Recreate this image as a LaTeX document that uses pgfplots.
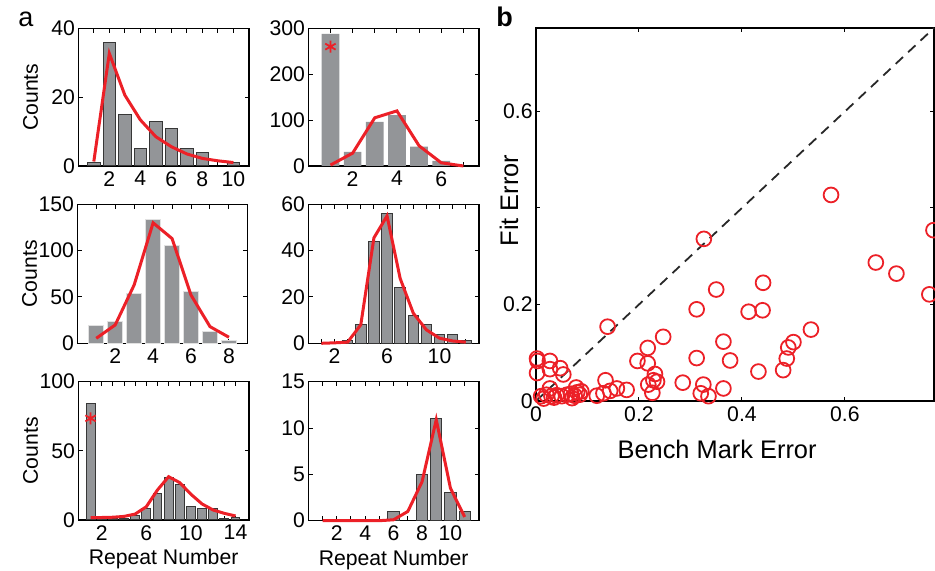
\documentclass[border=0pt]{standalone}
\usepackage{fontspec}
\setmainfont{Liberation Sans}
\usepackage{pgfplots}
\pgfplotsset{compat=1.18}
\definecolor{myred}{RGB}{236,32,39}
\definecolor{bargray}{RGB}{147,149,152}
\definecolor{baredge}{RGB}{55,55,55}
\definecolor{lightedge}{RGB}{225,225,225}
\definecolor{dashgray}{RGB}{40,40,40}
\pgfplotsset{
 common/.style={
  scale only axis, tick align=inside, major tick length=2.2pt,
  axis line style={line width=0.6pt}, tick style={black, line width=0.5pt},
  /pgf/number format/assume math mode=true,
  yticklabel style={inner xsep=1.5pt},
  xticklabel style={inner ysep=2.5pt},
  clip=false,
 },
 hist/.style={common,
  width=85.3pt, height=69pt, xmin=0, ymin=0,
  every axis y label/.style={at={(axis description cs:-0.28,0.5)}, rotate=90, anchor=center},
  every axis x label/.style={at={(axis description cs:0.5,-0.32)}, anchor=base},
 },
 bars/.style={ybar, bar width=0.8, fill=bargray, draw=baredge, line width=0.5pt},
 fit/.style={myred, line width=1.5pt, sharp plot, mark=none},
 star/.style={only marks, mark=asterisk, myred, mark size=3pt, line width=0.9pt},
}
\begin{document}
\fontsize{10.6pt}{12.7pt}\selectfont
\begin{tikzpicture}
\useasboundingbox (0,0) rectangle (467.5pt,285.5pt);
\node at (13pt,276pt) {\fontsize{13.5pt}{15pt}\selectfont a};
\node at (252.3pt,277pt) {\fontsize{13.5pt}{15pt}\selectfont\bfseries b};

% subplot 1
\begin{axis}[hist, at={(39.15pt,202.5pt)}, anchor=south west, height=68.85pt,
  xmax=11, ymax=40, xtick={1,...,10}, xticklabels={,2,,4,,6,,8,,10},
  ytick={0,20,40}, ylabel={Counts}]
\addplot[bars] coordinates {(1,1)(2,36)(3,15)(4,5)(5,13)(6,11)(7,5)(8,4)(10,1)};
\addplot[fit] coordinates {(1,1.3)(2,32.7)(3,20.6)(4,13.4)(5,8.5)(6,5.6)(7,3.5)(8,2.2)(9,1.5)(10,1.0)};
\end{axis}

% subplot 2
\begin{axis}[hist, at={(154.15pt,202.5pt)}, anchor=south west, height=68.85pt,
  xmax=7.7, ymax=300, xtick={1,...,7}, xticklabels={,2,,4,,6,},
  ytick={0,100,200,300}]
\addplot[bars, draw=none] coordinates {(1,288)(2,31)(3,96)(4,111)(5,42)(6,11)};
\addplot[fit] coordinates {(1,2)(2,28)(3,105)(4,120)(5,44)(6,7)(7,0)};
\addplot[star] coordinates {(1,260)};
\end{axis}

% subplot 3
\begin{axis}[hist, at={(38.65pt,113.85pt)}, anchor=south west, height=69.5pt,
  xmax=9, ymax=150, xtick={1,...,8}, xticklabels={,2,,4,,6,,8},
  ytick={0,50,100,150}, ylabel={Counts}]
\addplot[bars, draw=lightedge] coordinates {(1,19)(2,23)(3,54)(4,134)(5,105)(6,56)(7,13)(8,2.5)};
\addplot[fit] coordinates {(1,5.4)(2,19.8)(3,63)(4,130)(5,113)(6,52)(7,18)(8,6.5)};
\end{axis}

% subplot 4
\begin{axis}[hist, at={(154.15pt,113.85pt)}, anchor=south west, height=69.5pt,
  xmax=13, ymax=60, xtick={1,...,12}, xticklabels={,2,,,,6,,,,10,,},
  ytick={0,20,40,60}]
\addplot[bars] coordinates {(3,1)(4,8)(5,44)(6,56)(7,24)(8,12)(9,8)(10,4)(11,4)(12,1)};
\addplot[fit] coordinates {(1,0)(2,0.2)(3,0.5)(4,8)(5,45.5)(6,55)(7,28)(8,13)(9,5.8)(10,2.2)(11,1)(12,0.5)};
\end{axis}

% subplot 5
\begin{axis}[hist, at={(39.15pt,25.5pt)}, anchor=south west, height=69.15pt,
  xmin=-0.1, xmax=15.2, ymax=100, xtick={1,...,14}, xticklabels={,2,,,,6,,,,10,,,,14},
  ytick={0,50,100}, ylabel={Counts}, xlabel={Repeat Number}]
\addplot[bars] coordinates {(1,84)(2,2.4)(3,1)(4,1)(5,3.4)(6,8)(7,19)(8,31)(9,26)(10,10)(11,8.5)(12,8)(13,1)(14,2)};
\addplot[fit] coordinates {(1,1.7)(2,1.8)(3,2)(4,2.6)(5,4.3)(6,9.6)(7,21.7)(8,31.3)(9,27)(10,18.6)(11,11.6)(12,7.2)(13,4.8)(14,2.9)};
\addplot[star] coordinates {(1,73.5)};
\end{axis}

% subplot 6
\begin{axis}[hist, at={(154.15pt,25.15pt)}, anchor=south west, height=69.5pt,
  xmax=12, ymax=15, xtick={1,...,11}, xticklabels={,2,,4,,6,,8,,10,},
  ytick={0,5,10,15}, xlabel={Repeat Number}]
\addplot[bars] coordinates {(6,1)(8,5)(9,11)(10,3)(11,1)};
\addplot[fit] coordinates {(1,0)(2,0)(3,0)(4,0)(5,0)(6,0.1)(7,1)(8,4.2)(9,10.9)(10,3.5)(11,0.4)};
\end{axis}

% panel b
\begin{axis}[common, at={(268pt,85pt)}, anchor=south west, width=199pt, height=186.5pt,
  xmin=0, xmax=0.773, ymin=0, ymax=0.773,
  xtick={0,0.2,0.4,0.6}, ytick={0,0.2,0.4,0.6}, yticklabels={0,0.2,,0.6},
  xlabel={Bench Mark Error}, ylabel={Fit Error},
  every axis x label/.style={at={(axis description cs:0.455,-0.154)}, anchor=base, font=\fontsize{12.7pt}{15pt}\selectfont},
  every axis y label/.style={at={(axis description cs:-0.045,0.5375)}, rotate=90, anchor=base, font=\fontsize{12.7pt}{15pt}\selectfont},
  ]
\addplot[dashgray, line width=0.9pt, dash pattern=on 5pt off 3.5pt] coordinates {(0,0)(0.773,0.773)};
\addplot[only marks, mark=o, mark size=3.7pt, myred, line width=0.9pt] coordinates {
(0.573,0.427)(0.326,0.336)(0.660,0.287)(0.700,0.264)(0.772,0.354)(0.764,0.221)(0.350,0.231)(0.441,0.245)
(0.312,0.190)(0.413,0.185)(0.440,0.188)(0.139,0.154)(0.247,0.133)(0.534,0.148)(0.217,0.110)(0.364,0.123)
(0.500,0.122)(0.490,0.111)(0.487,0.088)(0.312,0.089)(0.377,0.084)(0.197,0.083)(0.217,0.078)(0.432,0.061)(0.480,0.064)
(0.002,0.088)(0.003,0.083)(0.002,0.058)(0.027,0.083)(0.027,0.066)(0.047,0.068)(0.053,0.055)
(0.231,0.056)(0.228,0.043)(0.235,0.040)(0.218,0.034)(0.226,0.017)
(0.285,0.038)(0.325,0.034)(0.320,0.016)(0.335,0.010)(0.364,0.026)
(0.135,0.043)(0.118,0.011)(0.131,0.016)(0.144,0.021)(0.157,0.026)(0.176,0.023)
(0.010,0.010)(0.020,0.013)(0.030,0.010)(0.027,0.026)(0.040,0.012)(0.050,0.010)(0.060,0.013)(0.068,0.015)
(0.075,0.011)(0.080,0.018)(0.078,0.028)(0.085,0.013)(0.088,0.020)(0.015,0.005)(0.035,0.007)(0.070,0.006)
};
\end{axis}
\end{tikzpicture}
\end{document}
